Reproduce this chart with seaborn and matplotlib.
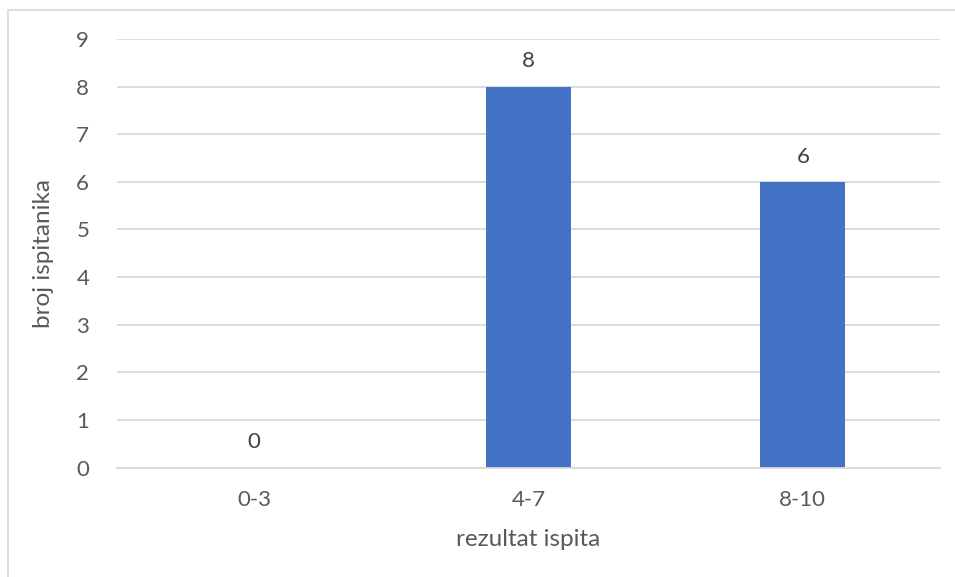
import pandas as pd
import matplotlib.pyplot as plt
import seaborn as sns
from matplotlib.patches import Rectangle

# chart data
categories = ['0-3', '4-7', '8-10']
counts = [0, 8, 6]
y_ticks = list(range(0, 10))

df = pd.DataFrame({'rezultat ispita': categories, 'broj ispitanika': counts})

sns.set_style("white")
plt.rcParams['font.family'] = ['Lato', 'DejaVu Sans']

W, H = 955, 577
fig = plt.figure(figsize=(W / 100, H / 100), dpi=100)
fig.patch.set_facecolor('white')

# light chart border (Excel style)
fig.add_artist(Rectangle((8 / W, -0.05), 1.1, 1 - 10 / H + 0.05, transform=fig.transFigure,
                         fill=False, edgecolor='#D9D9D9', linewidth=1.3))

ax = fig.add_axes([117 / W, 1 - 467.5 / H, (940 - 117) / W, (467.5 - 39) / H])
sns.barplot(data=df, x='rezultat ispita', y='broj ispitanika', color='#4472C4',
            width=0.31, saturation=1, linewidth=0, ax=ax)

ax.set_ylim(0, 9)
ax.set_xlim(-0.5, 2.5)
ax.set_yticks(y_ticks)
ax.yaxis.grid(True, color='#D9D9D9', linewidth=1.3)
ax.set_axisbelow(True)
for s in ['top', 'right', 'left']:
    ax.spines[s].set_visible(False)
ax.spines['bottom'].set_color('#D9D9D9')
ax.spines['bottom'].set_linewidth(1.3)

ax.tick_params(axis='both', length=0, labelsize=16, labelcolor='#595959')
ax.tick_params(axis='y', pad=20)
ax.tick_params(axis='x', pad=16)
ax.set_xlabel('rezultat ispita', fontsize=17.5, color='#595959', labelpad=14)
ax.set_ylabel('broj ispitanika', fontsize=17.5, color='#595959', labelpad=16)

# value labels above bars
for i, v in enumerate(counts):
    ax.annotate(str(v), (i, v), xytext=(0, 11), textcoords='offset points',
                ha='center', va='bottom', fontsize=16, color='#404040')

fig.savefig('out.png', dpi=100)
